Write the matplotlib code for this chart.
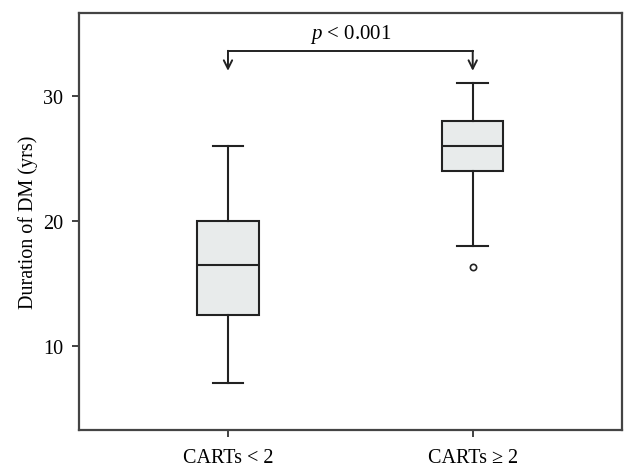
import numpy as np
from matplotlib import pyplot as plt

# box statistics (years)
groups = ['CARTs < 2', 'CARTs ≥ 2']
whislo = [7.0, 18.0]
q1 = [12.5, 24.0]
med = [16.5, 26.0]
q3 = [20.0, 28.0]
whishi = [26.0, 31.0]
fliers = [[], [16.3]]
yticks = [10, 20, 30]
p_label = r'$\it{p}$ < 0.001'

plt.rcParams['font.family'] = ['Liberation Serif', 'DejaVu Serif']
plt.rcParams['mathtext.fontset'] = 'custom'
plt.rcParams['mathtext.it'] = 'Liberation Serif:italic'

fig = plt.figure(figsize=(6.37, 4.77), dpi=100)
ax = fig.add_axes([0.1235, 0.096, 0.853, 0.874])

stats = []
for i in range(len(groups)):
    stats.append(dict(label=groups[i], whislo=whislo[i], q1=q1[i], med=med[i],
                      q3=q3[i], whishi=whishi[i], fliers=fliers[i]))

edge = '#222222'
ax.bxp(stats, positions=[1, 2], widths=0.25, patch_artist=True,
       boxprops=dict(facecolor='#e8ebeb', edgecolor=edge, linewidth=1.5),
       medianprops=dict(color=edge, linewidth=1.5),
       whiskerprops=dict(color=edge, linewidth=1.5),
       capprops=dict(color=edge, linewidth=1.5),
       flierprops=dict(marker='o', markersize=4.5, markerfacecolor='white',
                       markeredgecolor=edge, markeredgewidth=1.2))

ax.set_xlim(0.39, 2.61)
ax.set_ylim(3.25, 36.6)
ax.set_yticks(yticks)
ax.set_ylabel('Duration of DM (yrs)', fontsize=14.5, labelpad=4)
ax.tick_params(labelsize=14.5, length=5, width=1.3, color='#333333')
ax.tick_params(axis='y', pad=6)
ax.tick_params(axis='x', pad=8)
for s in ax.spines.values():
    s.set_color('#444444')
    s.set_linewidth(1.6)

# significance bracket
ybar, ytip = 33.6, 32.0
ax.plot([1, 2], [ybar, ybar], color=edge, lw=1.4)
for x in [1, 2]:
    ax.annotate('', xy=(x, ytip), xytext=(x, ybar),
                arrowprops=dict(arrowstyle='->', color=edge, lw=1.4,
                                shrinkA=0, shrinkB=0, mutation_scale=15))
ax.text(1.5, 34.1, p_label, ha='center', va='bottom', fontsize=15)

fig.savefig('out.png', dpi=100)
